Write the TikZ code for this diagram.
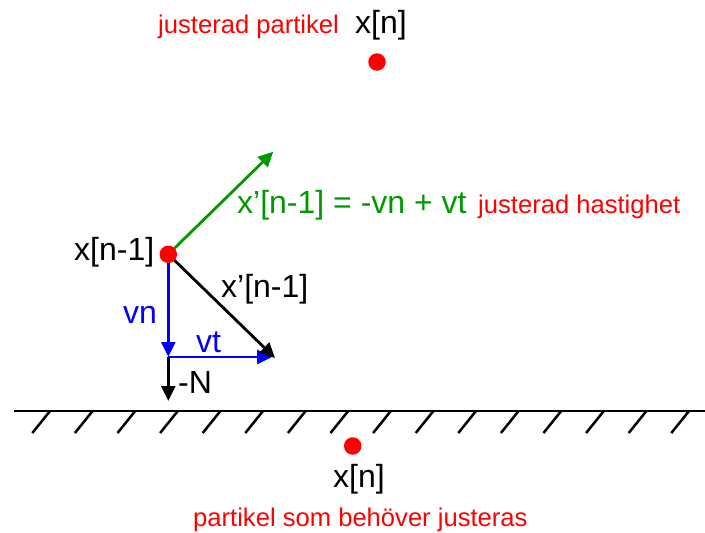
\documentclass[tikz,border=0pt]{standalone}
\usepackage{fontspec}
\setmainfont{Liberation Sans}
\usetikzlibrary{arrows.meta,backgrounds}
\definecolor{myred}{RGB}{255,0,0}
\definecolor{myblue}{RGB}{0,0,255}
\definecolor{mygreen}{RGB}{0,153,0}
\begin{document}
\begin{tikzpicture}[x=1pt,y=-1pt,
  big/.style={font=\fontsize{32}{37}\selectfont, inner sep=0pt, anchor=base west},
  lab/.style={font=\fontsize{25.6}{30}\selectfont, text=myred, inner sep=0pt, anchor=base west},
  dot/.style={circle, fill=myred, minimum size=17.5pt, inner sep=0pt},
  vec/.style={line width=2.8pt, -{Triangle[length=15pt,width=14pt]}},
  ground/.style={line width=2.8pt},
  hatch/.style={line width=2.5pt},
]
\useasboundingbox (0,0) rectangle (705,533);

% particles
\node[dot] (pprev) at (168.3,254.3) {};
\node[dot] (ptop) at (377,62) {};
\node[dot] (pbot) at (352.7,446) {};

% arrow end points
\coordinate (gtip) at (273.3,151.7);
\coordinate (corner) at (168.3,357);
\coordinate (vttip) at (272,357);
\coordinate (dtip) at (275,358);
\coordinate (ntip) at (168.3,401);

\begin{pgfonlayer}{background}
\draw[vec, mygreen] (pprev.center) -- (gtip);
\draw[vec, myblue] (pprev.center) -- (corner);
\draw[vec, myblue] (corner) -- (vttip);
\draw[vec, black] (pprev.center) -- (dtip);
\draw[vec, black] (corner) -- (ntip);
\end{pgfonlayer}

% texts
\node[lab] (l1) at (158,33) {justerad partikel};
\node[big] (xn) at (355,33) {x[n]};
\node[big, text=mygreen] (eq) at (237,213) {x’[n-1] = -vn + vt};
\node[lab] (l2) at (478,213) {justerad hastighet};
\node[big] (xprev) at (74,260) {x[n-1]};
\node[big] (xd) at (221,297) {x’[n-1]};
\node[big, text=myblue] (vn) at (123,323) {vn};
\node[big, text=myblue] (vt) at (196,352) {vt};
\node[big] (mn) at (178,393) {-N};
\node[big] (xnb) at (333,487) {x[n]};
\node[lab] (l3) at (193,526) {partikel som behöver justeras};

% ground
\coordinate (gl) at (14,411);
\coordinate (gr) at (705,411);
\draw[ground] (gl) -- (gr);
\foreach \k in {0,...,15} \draw[hatch] (50+42.6*\k,411) -- ++(-17.7,22);
\end{tikzpicture}
\end{document}
